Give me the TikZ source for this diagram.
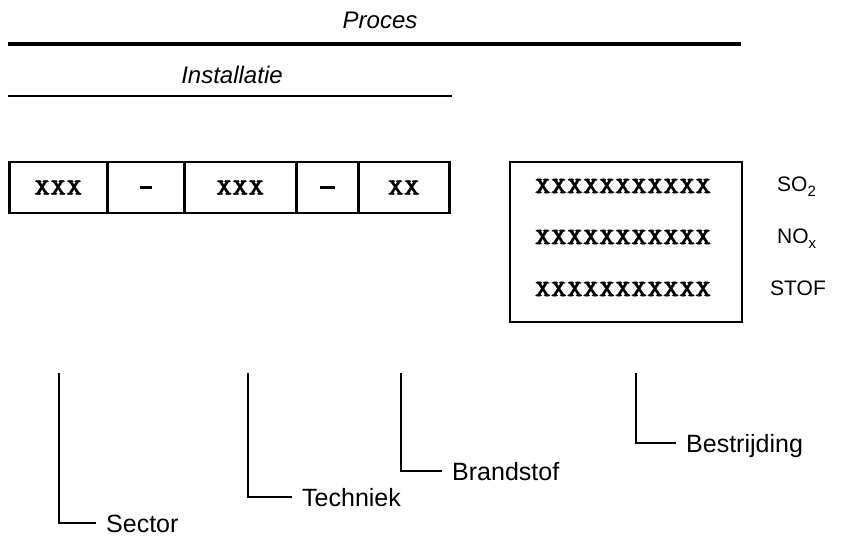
\documentclass[tikz,border=0pt]{standalone}
\usepackage{fontspec}
\setmainfont{Liberation Sans}
\newfontfamily\xfont[FakeStretch=1.3,FakeBold=1.2]{lmmonolt10-bold.otf}
\begin{document}
\begin{tikzpicture}[x=1pt,y=-1pt,
  heading/.style={font=\itshape\fontsize{24}{28}\selectfont, anchor=base, inner sep=0pt},
  cellbox/.style={draw, line width=2.5pt, minimum height=51pt, inner sep=0pt, anchor=west,
    font=\xfont\fontsize{23.5}{26}\selectfont},
  xrow/.style={inner sep=0pt, font=\xfont\fontsize{23.5}{26}\selectfont},
  gas/.style={anchor=base west, inner sep=0pt, font=\fontsize{21}{24}\selectfont},
  leaderlabel/.style={anchor=west, inner sep=0pt, text height=18pt, text depth=0pt,
    font=\fontsize{25}{30}\selectfont},
  leader/.style={line width=1.2pt, shorten >=10pt}
]
\useasboundingbox (0,0) rectangle (842,536);

% headings and rules
\node[heading] (proces) at (380,28) {Proces};
\coordinate (p1) at (8,44);
\coordinate (p2) at (741,44);
\draw[line width=3.5pt] (p1) -- (p2);
\node[heading] (installatie) at (232,83) {Installatie};
\coordinate (i1) at (8,96);
\coordinate (i2) at (452,96);
\draw[line width=2.2pt] (i1) -- (i2);

% code cells
\node[cellbox, minimum width=98pt] (c1) at (8,187.5) {XXX};
\node[cellbox, minimum width=77pt] (c2) at (106,187.5) {\rule{12pt}{2.5pt}};
\node[cellbox, minimum width=112pt] (c3) at (183,187.5) {XXX};
\node[cellbox, minimum width=62pt] (c4) at (295,187.5) {\rule{15pt}{2.5pt}};
\node[cellbox, minimum width=91pt] (c5) at (357,187.5) {XX};

% big box
\node[draw, line width=2.5pt, minimum width=232pt, minimum height=160pt, inner sep=0pt] (big) at (626,242) {};
\node[xrow] (r1) at (623,186) {XXXXXXXXXXX};
\node[xrow] (r2) at (623,237) {XXXXXXXXXXX};
\node[xrow] (r3) at (623,289) {XXXXXXXXXXX};

\node[gas] (so2) at (777,191) {SO\raisebox{-0.28em}{\fontsize{15}{15}\selectfont 2}};
\node[gas] (nox) at (777,243) {NO\raisebox{-0.28em}{\fontsize{15}{15}\selectfont x}};
\node[gas] (stof) at (770,295) {STOF};

% leaders
\coordinate (t1) at (59,373);
\coordinate (t2) at (248,373);
\coordinate (t3) at (401,373);
\coordinate (t4) at (636,373);
\node[leaderlabel] (sector) at (106,523) {Sector};
\node[leaderlabel] (techniek) at (302,497) {Techniek};
\node[leaderlabel] (brandstof) at (452,471) {Brandstof};
\node[leaderlabel] (bestrijding) at (686,443) {Bestrijding};
\draw[leader] (t1) |- (sector.west);
\draw[leader] (t2) |- (techniek.west);
\draw[leader] (t3) |- (brandstof.west);
\draw[leader] (t4) |- (bestrijding.west);
\end{tikzpicture}
\end{document}
